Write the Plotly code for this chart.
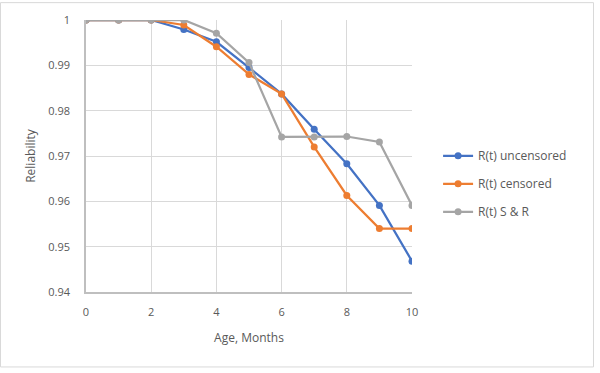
import plotly.graph_objects as go

months = [0, 1, 2, 3, 4, 5, 6, 7, 8, 9, 10]
r_uncensored = [1.0, 1.0, 1.0, 0.9979, 0.9952, 0.9895, 0.9837, 0.9759, 0.9683, 0.9591, 0.9468]
r_censored = [1.0, 1.0, 1.0, 0.9989, 0.9941, 0.9880, 0.9837, 0.9720, 0.9613, 0.9540, 0.9540]
r_sr = [1.0, 1.0, 1.0, 1.0, 0.9971, 0.9906, 0.9742, 0.9742, 0.9743, 0.9731, 0.9591]

series = [
    ("R(t) uncensored", r_uncensored, "#4472C4"),
    ("R(t) censored", r_censored, "#ED7D31"),
    ("R(t) S & R", r_sr, "#A5A5A5"),
]

fig = go.Figure()
for i, (name, vals, color) in enumerate(series):
    fig.add_trace(go.Scatter(
        x=months, y=vals, name=name, mode="lines+markers",
        line=dict(color=color, width=2.25),
        marker=dict(color=color, size=7),
        legendgroup=f"g{i}",
    ))

font_fam = "Open Sans, Liberation Sans, sans-serif"
L, R, T, B = 86, 188, 18, 81
W, H = 600, 373
pw, ph = W - L - R, H - T - B

fig.update_layout(
    width=W, height=H,
    margin=dict(l=L, r=R, t=T, b=B),
    paper_bgcolor="white", plot_bgcolor="white",
    font=dict(family=font_fam, size=11, color="#595959"),
    xaxis=dict(
        range=[0, 10], tickvals=[0, 2, 4, 6, 8, 10], ticktext=["0", "2", "4", "6", "8", "10"],
        showgrid=True, gridcolor="#D9D9D9", gridwidth=1,
        showline=True, linecolor="#BFBFBF", linewidth=1.5,
        zeroline=False, ticks="", ticklabelstandoff=9,
        title=dict(text="Age, Months", font=dict(size=12, color="#595959"), standoff=16),
    ),
    yaxis=dict(
        range=[0.94, 1.0], tickvals=[0.94, 0.95, 0.96, 0.97, 0.98, 0.99, 1.0],
        ticktext=["0.94", "0.95", "0.96", "0.97", "0.98", "0.99", "1"],
        showgrid=True, gridcolor="#D9D9D9", gridwidth=1,
        showline=True, linecolor="#BFBFBF", linewidth=1.5,
        zeroline=False, ticks="", ticklabelstandoff=12,
        title=dict(text="Reliability", font=dict(size=12, color="#595959"), standoff=10),
    ),
    legend=dict(
        x=1.08, y=(292 - 183) / ph, xanchor="left", yanchor="middle",
        font=dict(size=12, color="#595959"), tracegroupgap=9,
        bgcolor="rgba(0,0,0,0)",
    ),
    showlegend=True,
    shapes=[dict(
        type="rect", xref="paper", yref="paper",
        x0=(0.5 - L) / pw, x1=(593.5 - L) / pw,
        y0=(T + ph - 367.5) / ph, y1=(T + ph - 0.5) / ph,
        line=dict(color="#D9D9D9", width=1), fillcolor="rgba(0,0,0,0)", layer="below",
    )],
)

fig.write_html(
    "out.html",
    config={"displayModeBar": False},
    post_script="document.body.style.margin='0';document.body.style.padding='0';",
)
